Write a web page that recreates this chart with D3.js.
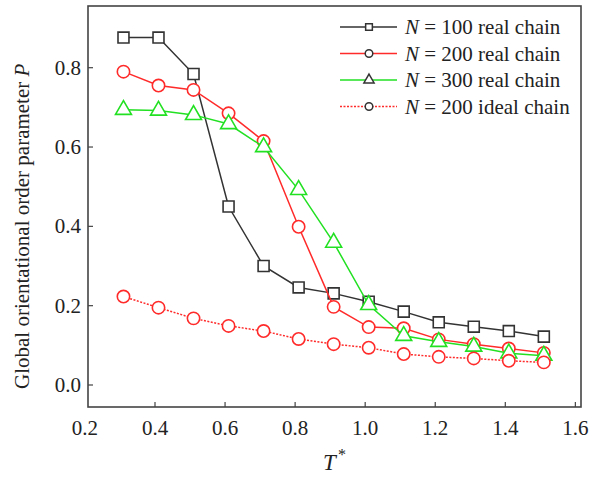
<!DOCTYPE html>
<html>
<head>
<meta charset="utf-8">
<script src="https://cdn.jsdelivr.net/npm/d3@7"></script>
<style>
  body { margin: 0; background: #fff; }
</style>
</head>
<body>
<div id="chart"></div>
<script>
// temperatures T*
const temps = [0.31, 0.41, 0.51, 0.61, 0.71, 0.81, 0.91, 1.01, 1.11, 1.21, 1.31, 1.41, 1.51];

// order parameter P for each series
const n100Real = [0.876, 0.876, 0.784, 0.450, 0.300, 0.246, 0.231, 0.210, 0.185, 0.158, 0.147, 0.136, 0.122];
const n200Real = [0.790, 0.755, 0.744, 0.685, 0.615, 0.399, 0.197, 0.146, 0.143, 0.115, 0.103, 0.092, 0.081];
const n300Real = [0.694, 0.692, 0.681, 0.658, 0.600, 0.492, 0.359, 0.202, 0.124, 0.109, 0.097, 0.080, 0.074];
const n200Ideal = [0.223, 0.195, 0.168, 0.149, 0.136, 0.116, 0.103, 0.094, 0.078, 0.071, 0.067, 0.061, 0.057];

const xTicks = [0.2, 0.4, 0.6, 0.8, 1.0, 1.2, 1.4, 1.6];
const yTicks = [0.0, 0.2, 0.4, 0.6, 0.8];

const seriesNames = ["N = 100 real chain", "N = 200 real chain", "N = 300 real chain", "N = 200 ideal chain"];

const series = [
  {name: seriesNames[0], values: n100Real, color: "#333333", symbol: d3.symbolSquare, size: 120, dash: null},
  {name: seriesNames[1], values: n200Real, color: "#ff2a2a", symbol: d3.symbolCircle, size: 120, dash: null},
  {name: seriesNames[2], values: n300Real, color: "#22e022", symbol: d3.symbolTriangle, size: 110, dash: null},
  {name: seriesNames[3], values: n200Ideal, color: "#ff2a2a", symbol: d3.symbolCircle, size: 120, dash: "2,1.5"}
];

const width = 592, height = 481;
const serif = "Liberation Serif";
// frame of the plot box
const frame = {left: 88, right: 581, top: 6, bottom: 407};

const svg = d3.select("#chart")
  .append("svg")
    .attr("width", width)
    .attr("height", height);

const x = d3.scaleLinear()
  .domain([0.4, 1.4])
  .range([155, 505.3]);

const y = d3.scaleLinear()
  .domain([0.0, 0.8])
  .range([385, 67.7]);

// frame
svg.append("rect")
  .attr("x", frame.left)
  .attr("y", frame.top)
  .attr("width", frame.right - frame.left)
  .attr("height", frame.bottom - frame.top)
  .attr("fill", "none")
  .attr("stroke", "#444")
  .attr("stroke-width", 1.6);

// x ticks (inward) and labels
svg.append("g")
  .selectAll("line")
  .data(xTicks.filter(t => x(t) > frame.left + 2 && x(t) < frame.right - 2))
  .enter()
  .append("line")
    .attr("x1", d => x(d)).attr("x2", d => x(d))
    .attr("y1", frame.bottom).attr("y2", frame.bottom - 5)
    .attr("stroke", "#444").attr("stroke-width", 1.2);

svg.append("g")
  .selectAll("text")
  .data(xTicks)
  .enter()
  .append("text")
    .attr("x", d => x(d))
    .attr("y", 435)
    .attr("text-anchor", "middle")
    .attr("fill", "#222")
    .style("font-family", serif)
    .style("font-size", "21px")
    .text(d => d.toFixed(1));

// y ticks (inward) and labels
svg.append("g")
  .selectAll("line")
  .data(yTicks)
  .enter()
  .append("line")
    .attr("x1", frame.left).attr("x2", frame.left + 5)
    .attr("y1", d => y(d)).attr("y2", d => y(d))
    .attr("stroke", "#444").attr("stroke-width", 1.2);

svg.append("g")
  .selectAll("text")
  .data(yTicks)
  .enter()
  .append("text")
    .attr("x", 81)
    .attr("y", d => y(d) + 7)
    .attr("text-anchor", "end")
    .attr("fill", "#222")
    .style("font-family", serif)
    .style("font-size", "21px")
    .text(d => d.toFixed(1));

// axis titles
const yTitle = svg.append("text")
  .attr("transform", `translate(29, ${y(0.4)}) rotate(-90)`)
  .attr("text-anchor", "middle")
  .attr("fill", "#222")
  .style("font-family", serif)
  .style("font-size", "21px");
yTitle.append("tspan").text("Global orientational order parameter ");
yTitle.append("tspan").style("font-style", "italic").text("P");

const xTitle = svg.append("text")
  .attr("x", (frame.left + frame.right) / 2)
  .attr("y", 470)
  .attr("text-anchor", "middle")
  .attr("fill", "#222")
  .style("font-family", serif)
  .style("font-size", "23px");
xTitle.append("tspan").style("font-style", "italic").text("T");
xTitle.append("tspan").attr("dy", -10).attr("dx", 2).style("font-size", "16px").text("*");

// series lines and markers
const line = d3.line()
  .x((d, i) => x(temps[i]))
  .y(d => y(d));

series.forEach(s => {
  svg.append("path")
    .datum(s.values)
    .attr("d", line)
    .attr("fill", "none")
    .attr("stroke", s.color)
    .attr("stroke-width", 1.5)
    .attr("stroke-dasharray", s.dash);

  svg.selectAll(null)
    .data(s.values)
    .enter()
    .append("path")
      .attr("d", d3.symbol().type(s.symbol).size(s.size))
      .attr("transform", (d, i) => `translate(${x(temps[i])}, ${y(d)})`)
      .attr("fill", "#fff")
      .attr("stroke", s.color)
      .attr("stroke-width", 1.6);
});

// legend
const legend = svg.append("g");
series.forEach((s, i) => {
  const ly = 27 + i * 26.5;
  legend.append("line")
    .attr("x1", 340).attr("x2", 397)
    .attr("y1", ly).attr("y2", ly)
    .attr("stroke", s.color)
    .attr("stroke-width", 1.5)
    .attr("stroke-dasharray", s.dash);
  legend.append("path")
    .attr("d", d3.symbol().type(s.symbol).size(45))
    .attr("transform", `translate(369, ${ly})`)
    .attr("fill", "#fff")
    .attr("stroke", "#333")
    .attr("stroke-width", 1.5);
  const t = legend.append("text")
    .attr("x", 405)
    .attr("y", ly + 7)
    .attr("fill", "#222")
    .style("font-family", serif)
    .style("font-size", "21px");
  const parts = s.name.split(" = ");
  t.append("tspan").style("font-style", "italic").text(parts[0]);
  t.append("tspan").text(" = " + parts[1]);
});
</script>
</body>
</html>
